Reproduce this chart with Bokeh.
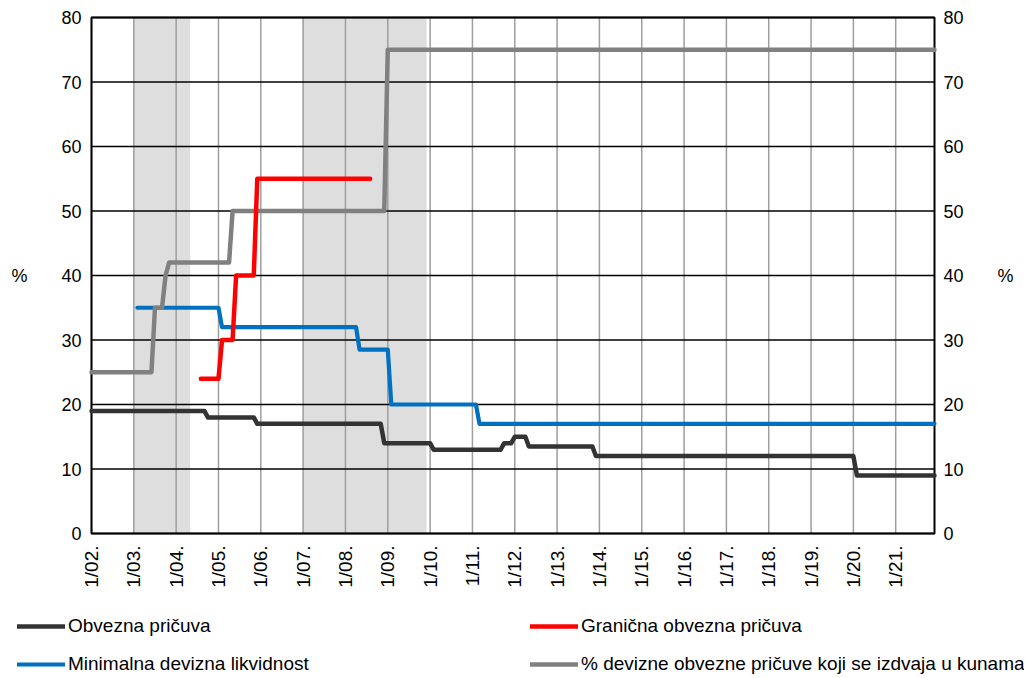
import math
from bokeh.plotting import figure
from bokeh.models import Range1d, LinearAxis, FixedTicker, Legend, LegendItem
from bokeh.embed import file_html
from bokeh.resources import INLINE

# x = month index (0 = January 2002, 239 = December 2021)
tick_months = [0, 12, 24, 36, 48, 60, 72, 84, 96, 108, 120, 132, 144, 156, 168, 180, 192, 204, 216, 228]
tick_labels = ["1/02.", "1/03.", "1/04.", "1/05.", "1/06.", "1/07.", "1/08.", "1/09.", "1/10.", "1/11.",
               "1/12.", "1/13.", "1/14.", "1/15.", "1/16.", "1/17.", "1/18.", "1/19.", "1/20.", "1/21."]
y_ticks = [0, 10, 20, 30, 40, 50, 60, 70, 80]
x_first, x_last = 0, 239
y_min, y_max = 0, 80

# shaded periods (month index)
shade_start = [12, 60]
shade_end = [28, 95]

# Obvezna pričuva
obvezna_x = [0, 32, 33, 46, 47, 82, 83, 96, 97, 116, 117, 119, 120, 123, 124, 142, 143, 216, 217, 239]
obvezna_y = [19, 19, 18, 18, 17, 17, 14, 14, 13, 13, 14, 14, 15, 15, 13.5, 13.5, 12, 12, 9, 9]

# Granična obvezna pričuva
granicna_x = [31, 36, 37, 40, 41, 46, 47, 79]
granicna_y = [24, 24, 30, 30, 40, 40, 55, 55]

# Minimalna devizna likvidnost
likvidnost_x = [13, 36, 37, 75, 76, 84, 85, 109, 110, 239]
likvidnost_y = [35, 35, 32, 32, 28.5, 28.5, 20, 20, 17, 17]

# % devizne obvezne pričuve koji se izdvaja u kunama
kune_x = [0, 17, 18, 20, 21, 22, 39, 40, 83, 84, 239]
kune_y = [25, 25, 35, 35, 40, 42, 42, 50, 50, 75, 75]

labels = ["Obvezna pričuva", "Granična obvezna pričuva", "Minimalna devizna likvidnost",
          "% devizne obvezne pričuve koji se izdvaja u kunama"]
colors = ["#333333", "#FF0000", "#0070C0", "#808080"]
widths = [4.5, 4.5, 4.2, 4.5]

FONT = "Liberation Sans"

# ---- layout geometry (pixels) ----
W, H = 1024, 676
PL, PR, PT, PB = 91, 934, 17, 533          # plot-area edges inside the canvas
kx = (PR - PL) / (x_last - x_first)
ky = (PB - PT) / (y_max - y_min)
x_range = Range1d(x_first - PL / kx, x_last + (W - PR) / kx)
y_range = Range1d(y_min - (H - PB) / ky, y_max + PT / ky)

p = figure(width=W, height=H, output_backend="svg", toolbar_location=None,
           x_range=x_range, y_range=y_range,
           min_border_left=0, min_border_right=0, min_border_top=0, min_border_bottom=0)
p.outline_line_color = None
p.background_fill_color = "white"
p.border_fill_color = "white"
p.grid.visible = False

# shading
p.quad(left=shade_start, right=shade_end, bottom=y_min, top=y_max,
       fill_color="#DEDEDE", line_color=None)

# grid lines
p.segment(x0=tick_months, y0=[y_min] * len(tick_months), x1=tick_months, y1=[y_max] * len(tick_months),
          line_color="#9E9E9E", line_width=1.5)
p.segment(x0=[x_first] * len(y_ticks), y0=y_ticks, x1=[x_last] * len(y_ticks), y1=y_ticks,
          line_color="black", line_width=1.3)
# plot-area border
p.quad(left=[x_first], right=[x_last], bottom=[y_min], top=[y_max],
       fill_color=None, line_color="black", line_width=2)

# axes (fixed at the plot-area edges)
xt = FixedTicker(ticks=tick_months)
yt = FixedTicker(ticks=y_ticks)

xax = p.xaxis[0]
xax.fixed_location = y_min
xax.bounds = (x_first, x_last)
xax.ticker = xt
xax.major_label_overrides = {m: l for m, l in zip(tick_months, tick_labels)}
xax.major_label_orientation = math.pi / 2
xax.major_label_standoff = 12
xax.major_label_text_font_size = "19px"

lax = p.yaxis[0]
lax.fixed_location = x_first
lax.bounds = (y_min, y_max)
lax.ticker = yt
lax.axis_label = "%"
lax.axis_label_orientation = "horizontal"
lax.axis_label_standoff = 31
lax.major_label_standoff = 10
lax.major_label_text_font_size = "18px"

rax = LinearAxis(ticker=yt, axis_label="%", axis_label_orientation="horizontal",
                 axis_label_standoff=31, major_label_standoff=9,
                 fixed_location=x_last, bounds=(y_min, y_max),
                 major_label_text_font_size="18px")
p.add_layout(rax, "right")

for ax in [xax, lax, rax]:
    ax.axis_line_color = None
    ax.major_tick_line_color = None
    ax.minor_tick_line_color = None
    ax.major_tick_out = 0
    ax.major_tick_in = 0
    ax.minor_tick_out = 0
    ax.minor_tick_in = 0
    ax.major_label_text_font = FONT
    ax.major_label_text_color = "black"
    ax.axis_label_text_font = FONT
    ax.axis_label_text_font_size = "18px"
    ax.axis_label_text_font_style = "normal"
    ax.axis_label_text_color = "black"

# series (drawing order: black, blue, gray, red)
kw = dict(line_cap="round", line_join="round")
r_ob = p.line(obvezna_x, obvezna_y, line_color=colors[0], line_width=widths[0], **kw)
r_li = p.line(likvidnost_x, likvidnost_y, line_color=colors[2], line_width=widths[2], **kw)
r_ku = p.line(kune_x, kune_y, line_color=colors[3], line_width=widths[3], **kw)
r_gr = p.line(granicna_x, granicna_y, line_color=colors[1], line_width=widths[1], **kw)


def make_legend(items, loc):
    return Legend(items=items, location=loc, orientation="vertical",
                  glyph_width=48, glyph_height=20, label_height=20, spacing=16,
                  label_standoff=3, padding=0, margin=0,
                  border_line_color=None, background_fill_alpha=0,
                  label_text_font=FONT, label_text_font_size="19px", label_text_color="black")


p.add_layout(make_legend([LegendItem(label=labels[0], renderers=[r_ob]),
                          LegendItem(label=labels[2], renderers=[r_li])], (17, 1)), "center")
p.add_layout(make_legend([LegendItem(label=labels[1], renderers=[r_gr]),
                          LegendItem(label=labels[3], renderers=[r_ku])], (530, 1)), "center")

open("out.html", "w").write(file_html(p, INLINE))
